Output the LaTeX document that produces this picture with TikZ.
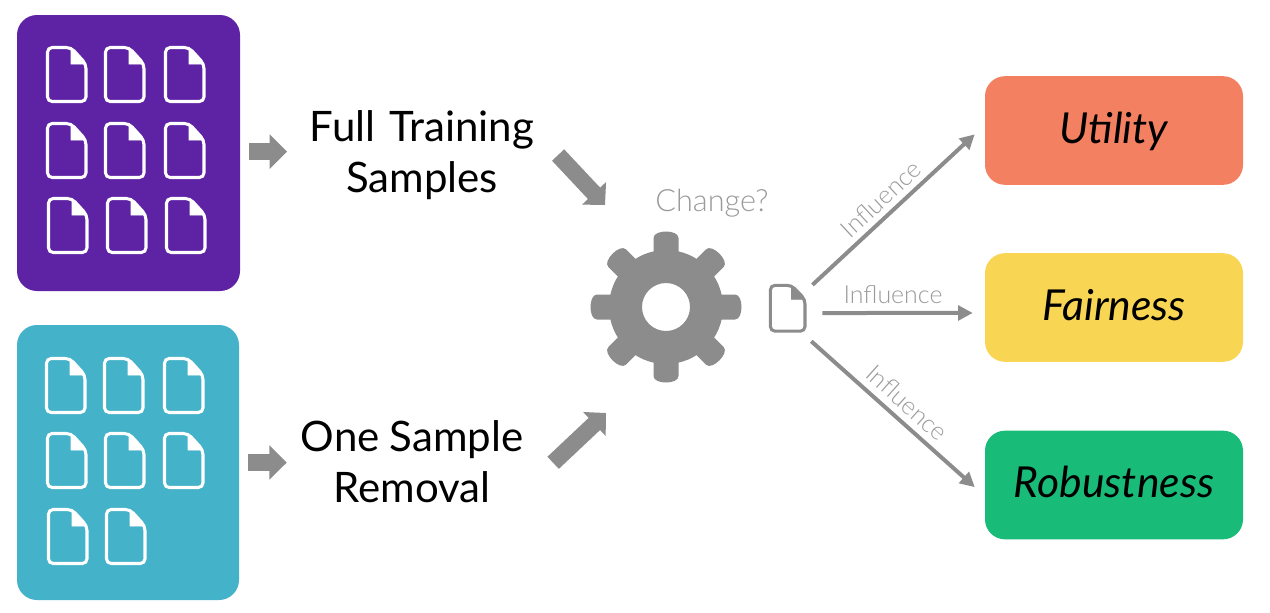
\documentclass[tikz,border=0pt]{standalone}
\usepackage{fontspec}
\setmainfont[WordSpace=0.6]{Lato}
\newfontfamily\lightf{Lato Light}
\usetikzlibrary{arrows.meta}
\definecolor{pur}{HTML}{5E22A5}
\definecolor{tea}{HTML}{44B2C8}
\definecolor{ora}{HTML}{F48062}
\definecolor{yel}{HTML}{F8D654}
\definecolor{gre}{HTML}{19BB78}
\definecolor{gry}{HTML}{8C8C8C}
\definecolor{lgry}{HTML}{9A9A9A}
\tikzset{
  panel/.style={rounded corners=15pt,inner sep=0pt,fill=#1},
  result/.style={panel=#1,minimum width=193.5pt,minimum height=81.5pt,text height=22pt,text depth=3.2pt,font=\fontsize{32}{38}\selectfont\itshape,text=black},
  caption/.style={inner sep=0pt,align=center,font=\fontsize{31.5}{38.2}\selectfont,text=black},
  small/.style={gry,line width=13pt,-{Triangle[length=13pt,width=25pt]}},
  big/.style={gry,line width=12.5pt,-{Triangle[length=12pt,width=24pt]}},
  infl/.style={gry,line width=3pt,-{Triangle[length=11pt,width=11pt]}},
  inflabel/.style={inner sep=0pt,text=lgry,font=\lightf\fontsize{18.7}{22}\selectfont},
  doc/.pic={
    \draw[pic actions,fill=none,line width=2.3pt,rounded corners=3.5pt]
      (25,1.5) -- (1.5,1.5) -- (1.5,55.5) -- (40,55.5) -- (40,18) -- cycle;
    \fill[pic actions] (25,1.5) -- (25,18) -- (40,18) -- cycle;
  }
}
\begin{document}
\begin{tikzpicture}[x=0.75pt,y=-0.75pt]
\useasboundingbox (0,0) rectangle (1270,612);
% source panels
\node[panel=pur,minimum width=167.25pt,minimum height=207pt] (purple) at (128.5,153) {};
\node[panel=tea,minimum width=166.5pt,minimum height=206.25pt] (teal) at (128,462.5) {};
\foreach \x/\y in {46/46,104/46,164/46,46/122,104/122,164/122,47/197,106/197,165/197,
                   45/357,103/357,163/357,46/432,104/432,163/432,47/508,105/508}
  \pic[draw=white,fill=white] at (\x,\y) {doc};
% captions
\node[caption,text width=172pt] (full) at (422,155) {Full Training\\Samples};
\node[caption,text width=172pt] (one) at (412,462) {One\kern-3pt{} Sample\\Removal};
% gear
\node[circle,inner sep=0pt,minimum size=114pt] (gear) at (666,307) {};
\begin{scope}[shift={(666,307)}]
  \fill[gry,even odd rule] (0,0) circle[radius=57] (0,0) circle[radius=24];
  \foreach \a in {0,45,...,315}
    \fill[gry,rotate=\a] (-12.5,-45) -- (-12.5,-69) .. controls (-12.5,-73.5) and (-6,-75.5) .. (0,-75.5) .. controls (6,-75.5) and (12.5,-73.5) .. (12.5,-69) -- (12.5,-45) -- cycle;
\end{scope}
\node[inner sep=0pt,text=lgry,font=\lightf\fontsize{23}{28}\selectfont] (change) at (712,203) {Change?};
% output document
\node[inner sep=0pt,minimum width=27.75pt,minimum height=36pt] (docg) at (787.5,308) {};
\pic[draw=gry,fill=gry,xscale=0.9,yscale=0.85] at (769,284) {doc};
% results
\node[result=ora] (util) at (1114,130.5) {Utility};
\node[result=yel] (fair) at (1114,307.5) {Fairness};
\node[result=gre] (robu) at (1114,485) {Robustness};
% connectors
\draw[small,shorten <=6.75pt,shorten >=15pt] ([yshift=1pt]purple.east) -- ([yshift=1pt]purple.east -| full.west);
\draw[small,shorten <=6.75pt,shorten >=7.7pt] (teal.east) -- (teal.east -| one.west);
\coordinate (fullin) at (605,205);
\coordinate (onein) at (606,413);
\draw[big,shorten <=23.2pt] ([yshift=16.9pt]full.east) -- (fullin);
\draw[big,shorten <=27pt] ([yshift=-19.1pt]one.east) -- (onein);
\draw[infl,shorten <=6.3pt,shorten >=10.2pt] (docg) -- ([yshift=4.1pt]util.west);
\draw[infl,shorten <=12pt,shorten >=9pt] ([yshift=-3.75pt]docg.east) -- ([yshift=-4.1pt]fair.west);
\draw[infl,shorten <=5pt,shorten >=10pt] ([yshift=-3.4pt]docg.south east) -- ([yshift=-8.25pt]robu.west);
% influence labels
\node[inflabel,rotate=42.8] (l1) at (881,199) {Influence};
\node[inflabel] (l2) at (893,295) {Influence};
\node[inflabel,rotate=-41.7] (l3) at (907,403) {Influence};
\end{tikzpicture}
\end{document}
